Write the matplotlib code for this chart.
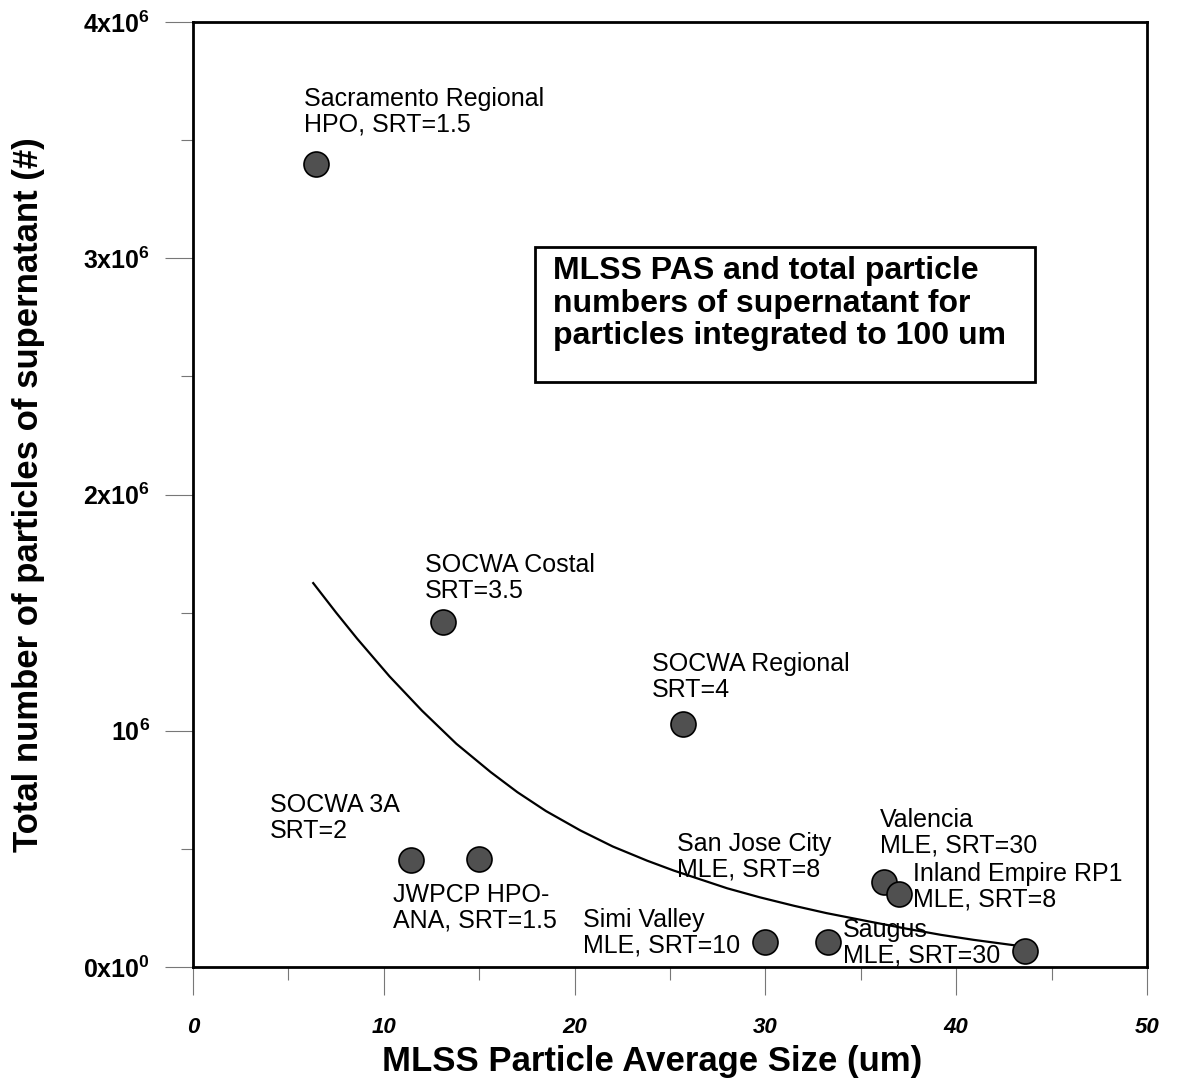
import matplotlib
matplotlib.use("Agg")
import matplotlib.pyplot as plt
from matplotlib.patches import Rectangle
from matplotlib.ticker import FixedLocator, MultipleLocator

plt.rcParams['font.family'] = ['Liberation Sans', 'DejaVu Sans']
plt.rcParams['mathtext.fontset'] = 'custom'
plt.rcParams['mathtext.rm'] = 'Liberation Sans'
plt.rcParams['mathtext.bf'] = 'Liberation Sans:bold'
plt.rcParams['mathtext.it'] = 'Liberation Sans:italic'

# plant data: average floc size (um) vs supernatant particle count
plants = ["Sacramento Regional\nHPO, SRT=1.5", "SOCWA Costal\nSRT=3.5",
          "SOCWA Regional\nSRT=4", "SOCWA 3A\nSRT=2", "JWPCP HPO-\nANA, SRT=1.5",
          "Simi Valley\nMLE, SRT=10", "San Jose City\nMLE, SRT=8",
          "Valencia\nMLE, SRT=30", "Inland Empire RP1\nMLE, SRT=8",
          "Saugus\nMLE, SRT=30"]
avg_size = [6.45, 13.1, 25.7, 11.4, 15.0, 30.0, 36.2, 37.0, 33.3, 43.6]
particles = [3.40e6, 1.46e6, 1.03e6, 0.453e6, 0.457e6, 0.106e6, 0.36e6, 0.31e6, 0.106e6, 0.068e6]
label_x = [5.82, 12.16, 24.06, 4.04, 10.48, 20.44, 25.37, 35.99, 37.73, 34.07]
label_y = [3.62e6, 1.647e6, 1.228e6, 0.631e6, 0.252e6, 0.146e6, 0.468e6, 0.569e6, 0.339e6, 0.104e6]

# trend curve
trend_x = [6.3, 7.5, 8.6, 10.3, 12.0, 13.8, 15.6, 17.0, 18.5, 20.3, 22.0, 23.8,
           25.2, 28.0, 29.7, 31.5, 33.2, 35.6, 37.4, 39.2, 40.9, 43.4]
trend_y = [1.625e6, 1.50e6, 1.39e6, 1.23e6, 1.085e6, 0.945e6, 0.825e6, 0.74e6,
           0.66e6, 0.578e6, 0.51e6, 0.45e6, 0.408e6, 0.333e6, 0.295e6, 0.259e6,
           0.228e6, 0.19e6, 0.162e6, 0.136e6, 0.115e6, 0.088e6]

yticks = [0, 1e6, 2e6, 3e6, 4e6]
ytick_labels = [r'$\mathbf{0x10^{0}}$', r'$\mathbf{10^{6}}$', r'$\mathbf{2x10^{6}}$',
                r'$\mathbf{3x10^{6}}$', r'$\mathbf{4x10^{6}}$']
xticks = [0, 10, 20, 30, 40, 50]

fig = plt.figure(figsize=(11.77, 10.86), dpi=100)
ax = fig.add_axes([0.164, 0.1096, 0.8105, 0.8701])

ax.plot(trend_x, trend_y, color='black', lw=1.6, zorder=2)
ax.plot(avg_size, particles, 'o', ms=18, mfc='#505050', mec='black', mew=1.2, zorder=3)

for name, lx, ly in zip(plants, label_x, label_y):
    ax.text(lx, ly, name, fontsize=18, ha='left', va='center', linespacing=1.08, zorder=4)

ax.text(18.87, 2.808e6, "MLSS PAS and total particle\nnumbers of supernatant for\nparticles integrated to 100 um",
        fontsize=23, fontweight='bold', ha='left', va='center', linespacing=1.1, zorder=4)
ax.add_patch(Rectangle((0.3585, 0.619), 0.524, 0.1429, transform=ax.transAxes,
                       fill=False, ec='black', lw=2.0, zorder=4))

ax.set_xlim(0, 50)
ax.set_ylim(0, 4e6)
ax.xaxis.set_major_locator(FixedLocator(xticks))
ax.xaxis.set_minor_locator(MultipleLocator(5))
ax.yaxis.set_major_locator(FixedLocator(yticks))
ax.yaxis.set_minor_locator(MultipleLocator(0.5e6))
ax.set_yticklabels(ytick_labels, fontsize=18)
ax.set_xticklabels([str(t) for t in xticks], fontsize=16, fontweight='bold', fontstyle='italic')

ax.tick_params(axis='both', which='major', direction='out', length=20, width=0.8, color='#777777')
ax.tick_params(axis='both', which='minor', direction='out', length=9, width=0.8, color='#777777')
ax.tick_params(axis='x', which='major', pad=16)
ax.tick_params(axis='y', which='major', pad=11)

for sp in ax.spines.values():
    sp.set_linewidth(2.0)
    sp.set_color('black')

ax.set_xlabel("MLSS Particle Average Size (um)", fontsize=25, fontweight='bold')
ax.set_ylabel("Total number of particles of supernatant (#)", fontsize=25, fontweight='bold')
ax.xaxis.set_label_coords(0.481, -0.0825)
ax.yaxis.set_label_coords(-0.155, 0.50)

fig.savefig("out.png", dpi=100)
